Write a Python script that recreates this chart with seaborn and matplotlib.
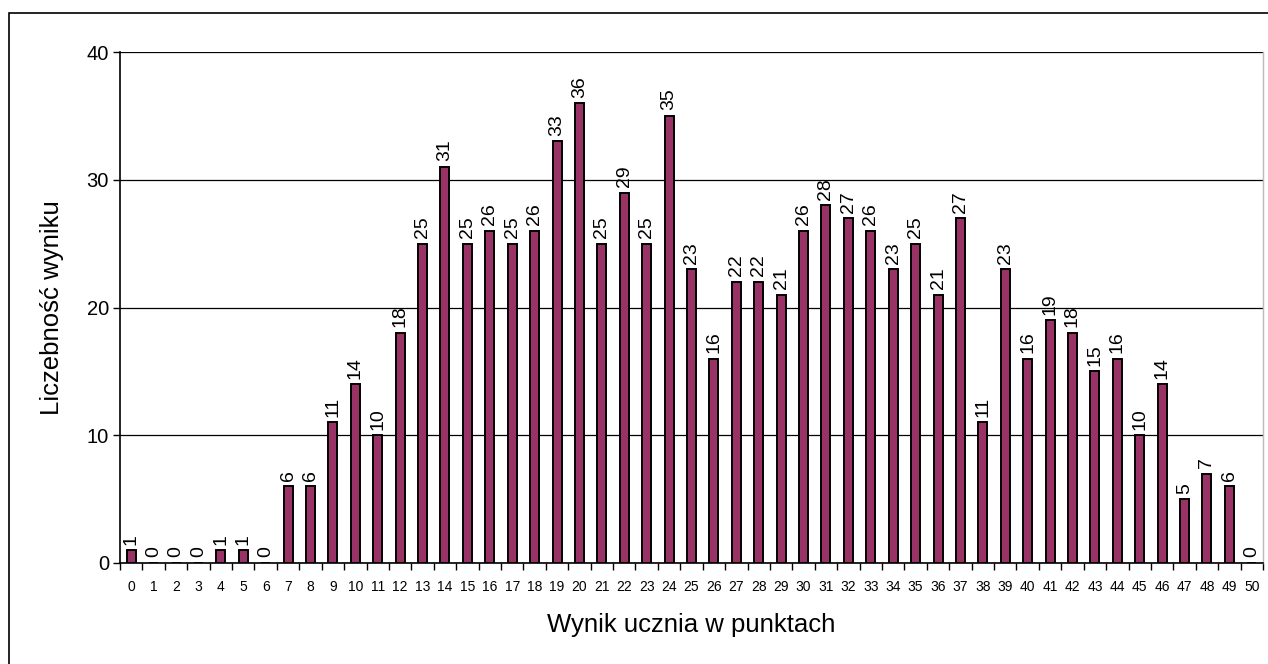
import matplotlib
matplotlib.use("Agg")
import matplotlib.pyplot as plt
import seaborn as sns
import numpy as np
from matplotlib.patches import Rectangle
from matplotlib.ticker import FixedLocator

sns.set_theme(style="white")
plt.rcParams["font.family"] = ["Liberation Sans", "DejaVu Sans"]
plt.rcParams["text.color"] = "black"
plt.rcParams["axes.labelcolor"] = "black"
plt.rcParams["xtick.color"] = "black"
plt.rcParams["ytick.color"] = "black"

# score (points) and how many students got it
scores = list(range(0, 51))
counts = [1, 0, 0, 0, 1, 1, 0, 6, 6, 11, 14, 10, 18, 25, 31, 25, 26, 25, 26, 33,
          36, 25, 29, 25, 35, 23, 16, 22, 22, 21, 26, 28, 27, 26, 23, 25, 21, 27,
          11, 23, 16, 19, 18, 15, 16, 10, 14, 5, 7, 6, 0]
y_ticks = [0, 10, 20, 30, 40]

fig = plt.figure(figsize=(12.68, 6.64), dpi=100)
ax = fig.add_axes([120 / 1268, 1 - 563 / 664, (1263 - 120) / 1268, (563 - 52) / 664])

sns.barplot(x=scores, y=counts, color="#993366", edgecolor="black", linewidth=1.4,
            width=0.4, saturation=1, ax=ax, zorder=3)

for c in ax.containers:
    ax.bar_label(c, labels=[str(v) for v in counts], rotation=90, padding=4,
                 fontsize=14, color="black")

ax.set_xlim(-0.5, len(scores) - 0.5)
ax.set_ylim(0, 40)
ax.set_yticks(y_ticks)
ax.set_yticklabels([str(t) for t in y_ticks], fontsize=14.5)
ax.yaxis.grid(True, color="black", linewidth=0.9, zorder=0)
ax.set_axisbelow(True)
ax.tick_params(axis="y", left=True, length=5, width=1, color="black", pad=3)

ax.set_xticks(range(len(scores)))
ax.set_xticklabels([str(s) for s in scores], fontsize=10)
ax.xaxis.set_minor_locator(FixedLocator(np.arange(-0.5, len(scores), 1.0)))
ax.tick_params(axis="x", which="major", length=0, pad=12)
ax.tick_params(axis="x", which="minor", bottom=True, length=5, width=1, color="black")

ax.set_xlabel("Wynik ucznia w punktach", fontsize=18.5, labelpad=14)
ax.set_ylabel("Liczebność wyniku", fontsize=18.5, labelpad=16)

for side in ["left", "bottom"]:
    ax.spines[side].set_color("black")
    ax.spines[side].set_linewidth(1.2)
ax.spines["top"].set_visible(False)
ax.spines["right"].set_color("#bbbbbb")
ax.spines["right"].set_linewidth(1)

# outer chart frame (only top and left edges visible)
fig.patches.append(Rectangle((9 / 1268, -0.05), 1.2, 1.05 - 13 / 664,
                             transform=fig.transFigure, fill=False,
                             edgecolor="black", linewidth=1.2))

fig.savefig("out.png", dpi=100)
